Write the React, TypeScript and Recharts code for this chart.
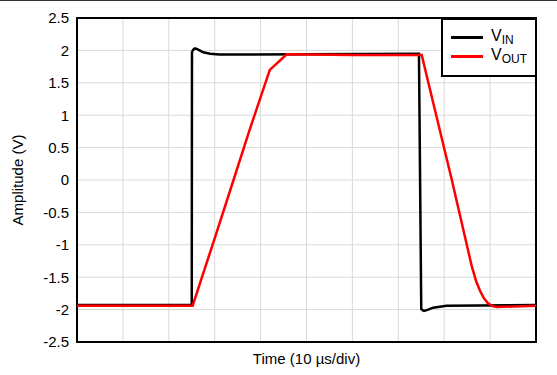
import { CartesianGrid, Line, LineChart, ReferenceArea, XAxis, YAxis } from "recharts";

const divTicks = [0, 1, 2, 3, 4, 5, 6, 7, 8, 9, 10];
const ampTicks = [-2.5, -2, -1.5, -1, -0.5, 0, 0.5, 1, 1.5, 2, 2.5];

const vinTime = [0, 2.5, 2.505, 2.53, 2.57, 2.62, 2.75, 2.9, 3.1, 5, 7.45, 7.5, 7.53, 7.56, 7.65, 7.76, 8.05, 10];
const vinValue = [-1.93, -1.93, 1.97, 2.01, 2.03, 2.02, 1.97, 1.95, 1.935, 1.94, 1.95, -1.99, -2.01, -2.02, -2.0, -1.97, -1.94, -1.93];

const voutTime = [0, 2.52, 2.7, 3.0, 3.41, 3.75, 4.2, 4.57, 6, 7.51, 7.73, 8.16, 8.6, 8.7, 8.78, 8.86, 8.95, 9.05, 9.14, 10];
const voutValue = [-1.94, -1.94, -1.55, -0.9, 0.0, 0.75, 1.7, 1.94, 1.93, 1.93, 1.28, 0.02, -1.33, -1.57, -1.71, -1.82, -1.9, -1.945, -1.96, -1.94];

const vinData = vinTime.map((t, i) => ({ t, v: vinValue[i] }));
const voutData = voutTime.map((t, i) => ({ t, v: voutValue[i] }));

const font = "'Liberation Sans', Arial, Helvetica, sans-serif";

function LegendBox() {
  const row = (color: string, sub: string) => (
    <div style={{ display: "flex", alignItems: "center", height: 19 }}>
      <div style={{ width: 32, height: 3, background: color, marginRight: 8 }} />
      <span style={{ fontSize: 16, color: "#000", lineHeight: "16px" }}>
        V<sub style={{ fontSize: 12, verticalAlign: "-3px" }}>{sub}</sub>
      </span>
    </div>
  );
  return (
    <div
      style={{
        position: "absolute",
        left: 441,
        top: 17,
        boxSizing: "border-box",
        width: 96,
        height: 59,
        border: "2px solid #000",
        background: "#fff",
        padding: "8px 0 0 8px",
        fontFamily: font,
      }}
    >
      {row("#000", "IN")}
      {row("#ff0000", "OUT")}
    </div>
  );
}

export default function App() {
  return (
    <div style={{ position: "absolute", left: 0, top: 0, width: 557, height: 375, background: "#fff", borderTop: "1px solid #333", boxSizing: "border-box", fontFamily: font }}>
      <LineChart width={557} height={374} margin={{ top: 17, right: 21, bottom: 0, left: 0 }}>
        <CartesianGrid stroke="#d9d9d9" strokeWidth={1} />
        <XAxis
          type="number"
          dataKey="t"
          domain={[0, 10]}
          ticks={divTicks}
          tickFormatter={() => ""}
          tickLine={false}
          axisLine={false}
          height={33}
          label={{ value: "Time (10 µs/div)", position: "insideBottom", offset: 11, fill: "#000", fontSize: 15, fontFamily: font }}
        />
        <YAxis
          type="number"
          domain={[-2.5, 2.5]}
          ticks={ampTicks}
          tickLine={false}
          axisLine={false}
          width={77}
          tick={{ fill: "#000", fontSize: 15, fontFamily: font }}
          label={{ value: "Amplitude (V)", angle: -90, position: "insideLeft", offset: 18, style: { textAnchor: "middle" }, fill: "#000", fontSize: 15, fontFamily: font }}
        />
        <Line data={vinData} dataKey="v" type="linear" stroke="#000" strokeWidth={2.5} dot={false} isAnimationActive={false} />
        <Line data={voutData} dataKey="v" type="linear" stroke="#ff0000" strokeWidth={2.5} dot={false} isAnimationActive={false} />
        <ReferenceArea x1={0} x2={10} y1={-2.5} y2={2.5} fill="none" stroke="#000" strokeWidth={2} ifOverflow="visible" />
      </LineChart>
      <LegendBox />
    </div>
  );
}
